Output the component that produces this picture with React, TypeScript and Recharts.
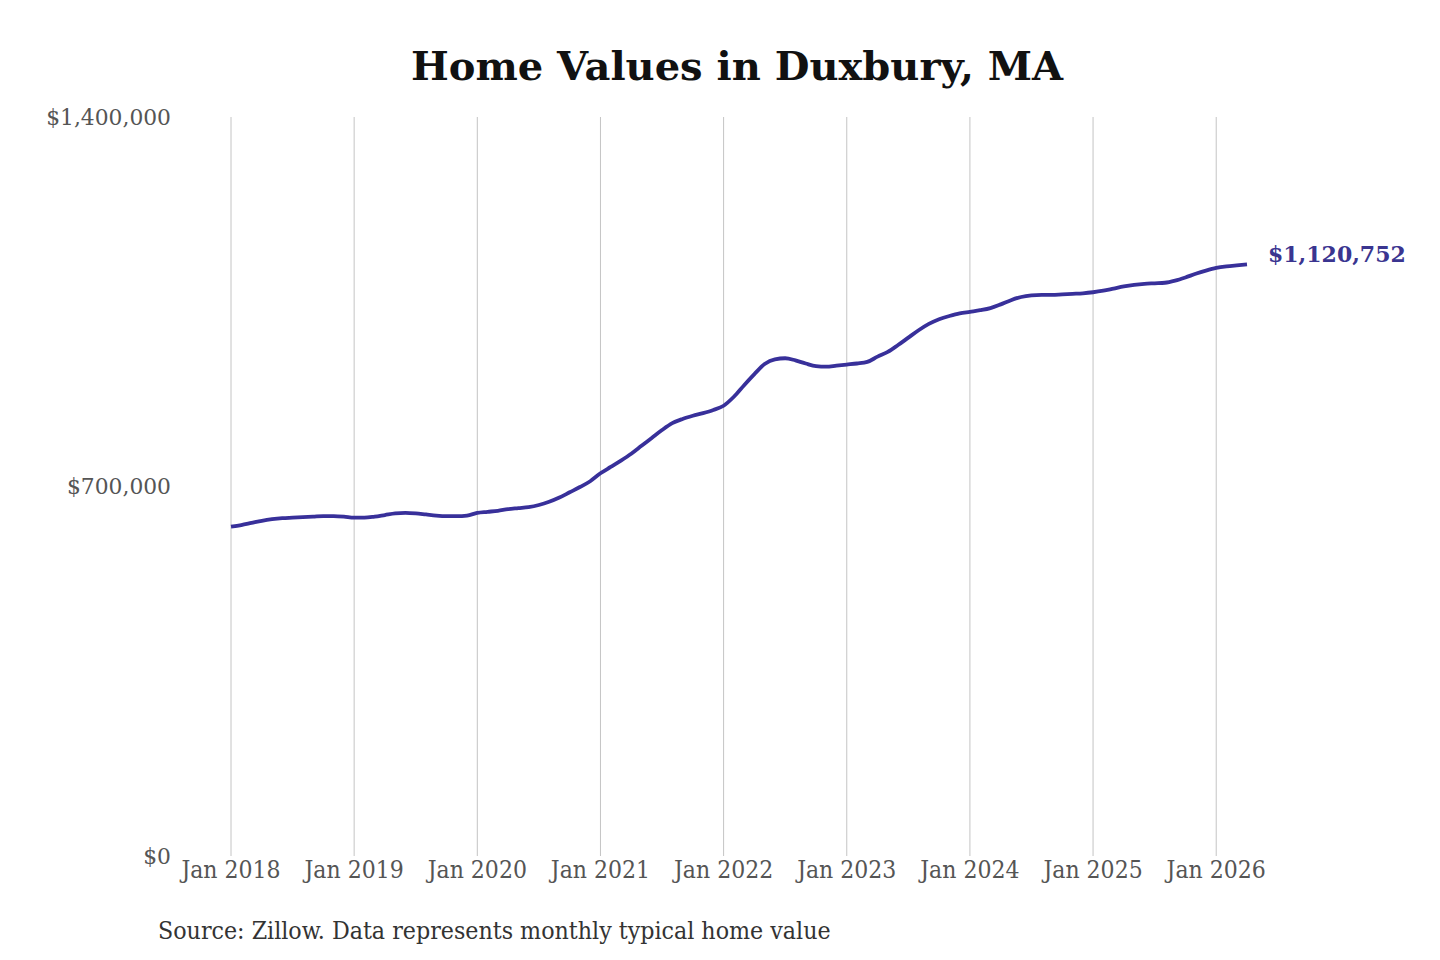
import { LineChart, Line, XAxis, YAxis, CartesianGrid, LabelList } from 'recharts';

// monthly typical home value, Jan 2018 .. Apr 2026
const values2018 = [624000, 627000, 631000, 635000, 638000, 640000, 641000, 642000, 643000, 644000, 644000, 643000];
const values2019 = [641000, 641000, 643000, 646000, 649000, 650000, 649000, 647000, 645000, 644000, 644000, 645000];
const values2020 = [650000, 652000, 654000, 657000, 659000, 661000, 665000, 671000, 679000, 689000, 699000, 710000];
const values2021 = [725000, 737000, 749000, 762000, 777000, 792000, 807000, 820000, 828000, 834000, 839000, 845000];
const values2022 = [853000, 870000, 892000, 913000, 932000, 941000, 943000, 939000, 933000, 928000, 927000, 929000];
const values2023 = [931000, 933000, 936000, 946000, 955000, 968000, 982000, 996000, 1008000, 1017000, 1023000, 1028000];
const values2024 = [1031000, 1034000, 1038000, 1045000, 1053000, 1059000, 1062000, 1063000, 1063000, 1064000, 1065000, 1066000];
const values2025 = [1068000, 1071000, 1075000, 1079000, 1082000, 1084000, 1085000, 1086000, 1090000, 1096000, 1103000, 1109000];
const values2026 = [1114000, 1117000, 1119000, 1120752];

const yearTicks = [0, 12, 24, 36, 48, 60, 72, 84, 96];
const yearLabels = ['Jan 2018', 'Jan 2019', 'Jan 2020', 'Jan 2021', 'Jan 2022', 'Jan 2023', 'Jan 2024', 'Jan 2025', 'Jan 2026'];
const valueTicks = [0, 700000, 1400000];

const allValues = [
  ...values2018, ...values2019, ...values2020, ...values2021, ...values2022,
  ...values2023, ...values2024, ...values2025, ...values2026,
];
const data = allValues.map((value, month) => ({ month, value }));
const lastIndex = data.length - 1;

const LINE_COLOR = '#38309a';
const serif = "'DejaVu Serif', serif";
const condensed = "'DejaVu Serif Condensed', 'DejaVu Serif', serif";

const fmtDollars = (v: number) => '$' + v.toLocaleString('en-US');

function EndLabel(props: any) {
  const { x, y, index } = props;
  if (index !== lastIndex) return null;
  return (
    <text x={x + 21} y={y - 8} fill="#3a3590" fontFamily={serif} fontWeight="bold" fontSize={22} dominantBaseline="middle">
      {fmtDollars(allValues[lastIndex])}
    </text>
  );
}

export default function App() {
  return (
    <div style={{ position: 'absolute', left: 0, top: 0, width: 1440, height: 960, background: '#fff' }}>
      <div
        style={{
          position: 'absolute', left: 0, top: 42, width: 1474, textAlign: 'center',
          fontFamily: serif, fontWeight: 'bold', fontSize: 40, color: '#111',
        }}
      >
        Home Values in Duxbury, MA
      </div>
      <LineChart width={1440} height={960} data={data} margin={{ top: 117, right: 193, bottom: 74, left: 0 }}>
        <CartesianGrid horizontal={false} stroke="#c4c4c4" strokeWidth={1} syncWithTicks />
        <XAxis
          dataKey="month"
          type="number"
          domain={[0, lastIndex]}
          ticks={yearTicks}
          tickFormatter={(m: number) => yearLabels[yearTicks.indexOf(m)]}
          axisLine={false}
          tickLine={false}
          tickSize={5}
          tickMargin={0}
          height={30}
          interval={0}
          tick={{ fill: '#555', fontSize: 24.5, fontFamily: condensed, fontStretch: 'condensed' }}
        />
        <YAxis
          domain={[0, 1400000]}
          ticks={valueTicks}
          tickFormatter={fmtDollars}
          axisLine={false}
          tickLine={false}
          width={231}
          tickSize={6}
          tickMargin={54}
          tick={{ fill: '#555', fontSize: 21.8, fontFamily: serif }}
        />
        <Line
          type="monotone"
          dataKey="value"
          stroke={LINE_COLOR}
          strokeWidth={3.8}
          dot={false}
          isAnimationActive={false}
        >
          <LabelList dataKey="value" content={EndLabel} />
        </Line>
      </LineChart>
      <div
        style={{
          position: 'absolute', left: 158, top: 916, fontFamily: condensed, fontStretch: 'condensed',
          fontSize: 24.7, color: '#333',
        }}
      >
        Source: Zillow. Data represents monthly typical home value
      </div>
    </div>
  );
}
